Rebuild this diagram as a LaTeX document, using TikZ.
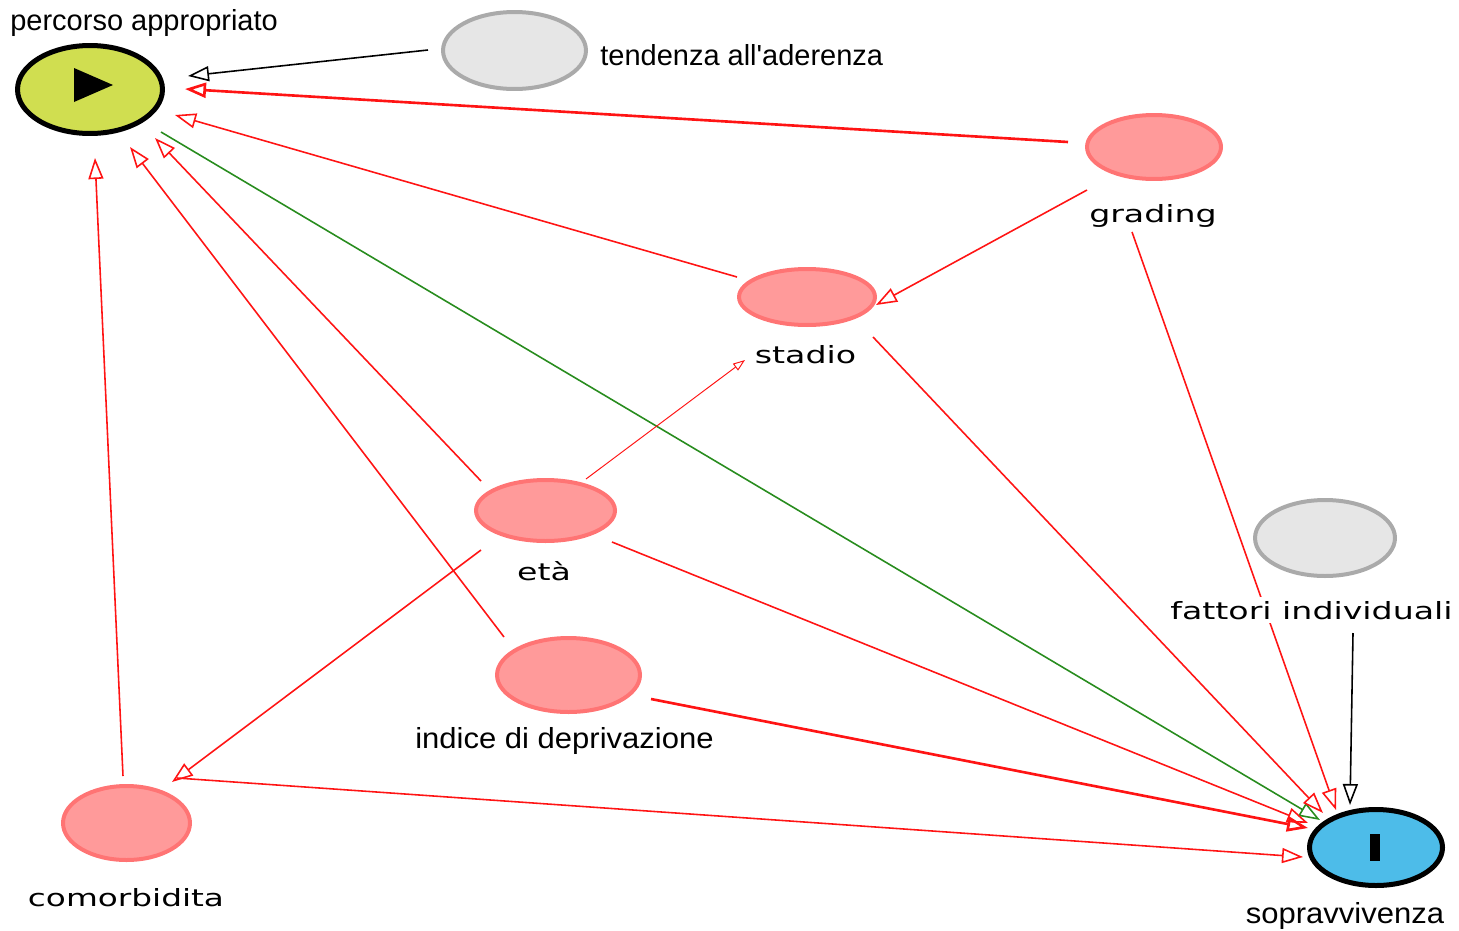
\documentclass[tikz,border=0pt]{standalone}
\usepackage{fontspec}
\setmainfont{Liberation Sans}
\newfontfamily\widefont{DejaVu Sans}
\usetikzlibrary{shapes.geometric,arrows.meta}
\definecolor{pinkfill}{RGB}{255,154,154}
\definecolor{pinkline}{RGB}{255,116,116}
\definecolor{grayfill}{RGB}{230,230,230}
\definecolor{grayline}{RGB}{170,170,170}
\definecolor{limefill}{RGB}{208,222,80}
\definecolor{bluefill}{RGB}{77,188,233}
\definecolor{edgered}{RGB}{255,20,20}
\definecolor{edgegreen}{RGB}{40,140,30}
\tikzset{
  ell/.style={ellipse, inner sep=0pt},
  pinknode/.style={ell, fill=pinkfill, draw=pinkline, line width=0.08cm},
  graynode/.style={ell, fill=grayfill, draw=grayline, line width=0.08cm},
  keynode/.style={ell, draw=black, line width=0.1cm},
  arrlbl/.style={inner sep=0pt, font=\fontsize{16.5pt}{19pt}\selectfont},
  widelbl/.style={inner sep=0pt, font=\fontsize{13.5pt}{16pt}\widefont},
  tip/.style={-{Triangle[open,length=0.42cm,width=0.3cm]}, line join=miter},
  redE/.style={tip, draw=edgered, line width=0.9pt},
  redT/.style={tip, draw=edgered, line width=1.5pt},
  redS/.style={-{Triangle[open,length=0.24cm,width=0.17cm]}, draw=edgered, line width=0.55pt},
  greenE/.style={tip, draw=edgegreen, line width=0.9pt},
  blackE/.style={tip, draw=black, line width=0.9pt},
}
\begin{document}
\begin{tikzpicture}[x=0.02cm, y=-0.02cm]
\useasboundingbox (0,0) rectangle (1459,930);
% nodes
\node[keynode, fill=limefill, minimum width=2.9cm, minimum height=1.76cm] (percorso) at (90,89.5) {};
\fill[black] ([shift={(-16,-21.5)}]percorso.center) -- ([shift={(-16,12.5)}]percorso.center) -- ([shift={(23,-4.5)}]percorso.center) -- cycle;
\node[graynode, minimum width=2.86cm, minimum height=1.54cm] (tendenza) at (514.5,50.5) {};
\node[pinknode, minimum width=2.68cm, minimum height=1.28cm] (grading) at (1154,147) {};
\node[pinknode, minimum width=2.72cm, minimum height=1.12cm] (stadio) at (807,297) {};
\node[pinknode, minimum width=2.78cm, minimum height=1.22cm] (eta) at (545.5,510.5) {};
\node[pinknode, minimum width=2.86cm, minimum height=1.48cm] (indice) at (568.5,675) {};
\node[pinknode, minimum width=2.54cm, minimum height=1.48cm] (comorb) at (126.5,823) {};
\node[graynode, minimum width=2.8cm, minimum height=1.52cm] (fattori) at (1325,538) {};
\node[keynode, fill=bluefill, minimum width=2.66cm, minimum height=1.52cm] (sopra) at (1376,847.5) {};
\fill[black] ([shift={(-6,-13.5)}]sopra.center) rectangle ([shift={(4,13.5)}]sopra.center);
% edges into percorso
\draw[blackE] ([shift={(-86.5,-0.5)}]tendenza.center) -- ([shift={(98,-13.5)}]percorso.center);
\draw[redT] ([shift={(-86,-5)}]grading.center) -- ([shift={(95,-0.5)}]percorso.center);
\draw[redE] ([shift={(-70,-20)}]stadio.center) -- ([shift={(85,25.5)}]percorso.center);
\draw[redE] ([shift={(-64.5,-29.5)}]eta.center) -- ([shift={(65,48.5)}]percorso.center);
\draw[redE] ([shift={(-64.5,-38)}]indice.center) -- ([shift={(40,57.5)}]percorso.center);
\draw[redE] ([shift={(-3.5,-47)}]comorb.center) -- ([shift={(5,68.5)}]percorso.center);
% percorso to sopravvivenza
\draw[greenE] ([shift={(71,42.5)}]percorso.center) -- ([shift={(-56,-27.5)}]sopra.center);
% other edges
\draw[redE] ([shift={(-67,43)}]grading.center) -- ([shift={(69,8)}]stadio.center);
\draw[redE] ([shift={(-22,85)}]grading.center) -- ([shift={(-40,-37.5)}]sopra.center);
\draw[blackE] ([shift={(28,95)}]fattori.center) -- ([shift={(-26,-42.5)}]sopra.center);
\draw[redE] ([shift={(66,40)}]stadio.center) -- ([shift={(-53,-34.5)}]sopra.center);
\draw[redS] ([shift={(40.5,-31.5)}]eta.center) -- ([shift={(-62,63)}]stadio.center);
\draw[redE] ([shift={(66.5,31.5)}]eta.center) -- ([shift={(-68,-24.5)}]sopra.center);
\draw[redE] ([shift={(-64.5,39.5)}]eta.center) -- ([shift={(45.5,-41)}]comorb.center);
\draw[redT] ([shift={(82.5,24)}]indice.center) -- ([shift={(-68,-19.5)}]sopra.center);
\draw[redE] ([shift={(50.5,-45)}]comorb.center) -- ([shift={(-73,9.5)}]sopra.center);
% labels
\node[arrlbl, anchor=base west] (percorso-l) at (10,30) {percorso appropriato};
\node[arrlbl, anchor=base west] (tendenza-l) at (600,65) {tendenza all\textquotesingle aderenza};
\node[widelbl, anchor=base] (grading-l) at (1153,222) {\scalebox{1.4}[1]{grading}};
\node[widelbl, anchor=base] (stadio-l) at (805.5,363) {\scalebox{1.4}[1]{stadio}};
\node[widelbl, anchor=base] (eta-l) at (544,580) {\scalebox{1.4}[1]{età}};
\node[arrlbl, anchor=base] (indice-l) at (564.5,748) {\scalebox{1.07}[1]{indice di deprivazione}};
\node[widelbl, anchor=base] (comorb-l) at (126,906.5) {\scalebox{1.38}[1]{comorbidita}};
\node[widelbl, anchor=base, fill=white, inner sep=2pt] (fattori-l) at (1311.5,619) {\scalebox{1.4}[1]{fattori individuali}};
\node[arrlbl, anchor=base] (sopra-l) at (1345,923) {\scalebox{1.07}[1]{sopravvivenza}};
\end{tikzpicture}
\end{document}
